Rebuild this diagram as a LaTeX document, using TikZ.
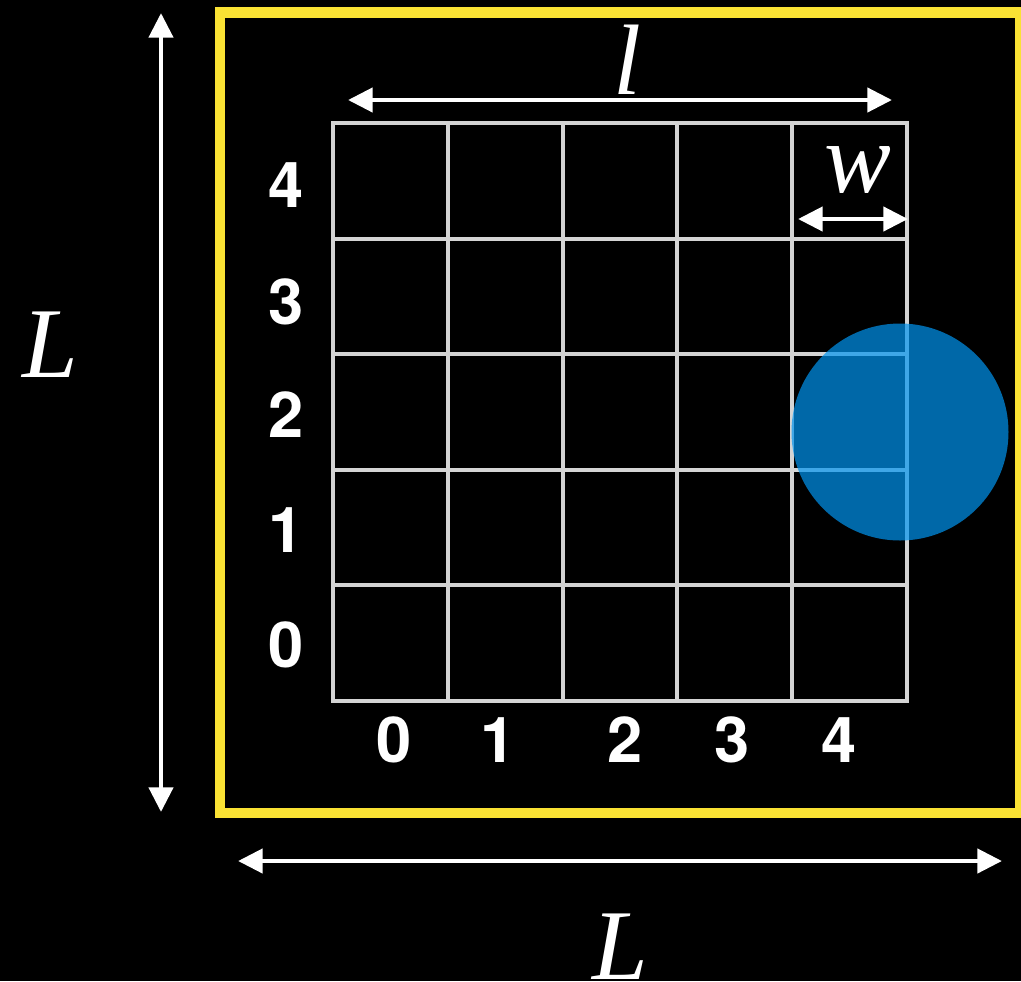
\documentclass[tikz,border=0pt]{standalone}
\usepackage{fontspec}
\usepackage{tikz}
\usetikzlibrary{arrows.meta}
\newfontfamily\labelfont{Liberation Serif}
\newfontfamily\digitfont{TeX Gyre Heros}
\definecolor{boxyellow}{RGB}{250,226,52}
\definecolor{gridgray}{RGB}{212,212,212}
\definecolor{cellblue}{RGB}{0,149,240}
\tikzset{
  dimarrow/.style={white,line width=2.8pt,{Triangle[length=14pt,width=13.5pt]}-{Triangle[length=14pt,width=13.5pt]}},
  gridline/.style={gridgray,line width=2.3pt,line cap=rect},
  dimlabel/.style={white,inner sep=0pt,font=\labelfont\itshape\fontsize{57}{60}\selectfont},
  numlabel/.style={white,inner sep=0pt,font=\digitfont\bfseries\fontsize{36}{40}\selectfont}
}
\begin{document}
\begin{tikzpicture}[x=0.02cm,y=-0.02cm]
\useasboundingbox (0,0) rectangle (1021,981);
\fill[black] (0,0) rectangle (1021,981);
% --- the box ---
\draw[boxyellow,line width=6.2pt] (220,12.5) rectangle (1020,813);
% --- the grid of cells ---
\foreach \i in {0,...,5}
  \draw[gridline] ({333+114.8*\i},123) -- ({333+114.8*\i},701);
\foreach \j in {0,...,5}
  \draw[gridline] (333,{123+115.6*\j}) -- (907,{123+115.6*\j});
\fill[cellblue,opacity=0.7] (900,432) circle (108.5);
% --- row and column indices ---
\foreach \r/\y in {4/185,3/302,2/415,1/530,0/645}
  \node[numlabel] (row\r) at (286,\y) {\r};
\foreach \c/\x in {0/394,1/498,2/625,3/732,4/839}
  \node[numlabel] (col\c) at (\x,740) {\c};
% --- the dimensions ---
\coordinate (Ltop) at (161,13);
\coordinate (Lbot) at (161,812);
\coordinate (Lleft) at (238,861);
\coordinate (Lright) at (1002,861);
\coordinate (lleft) at (348,100);
\coordinate (lright) at (892,100);
\coordinate (wleft) at (798,219);
\coordinate (wright) at (908,219);
\draw[dimarrow] (Ltop) -- (Lbot);
\draw[dimarrow] (Lleft) -- (Lright);
\draw[dimarrow] (lleft) -- (lright);
\draw[dimarrow] (wleft) -- (wright);
\node[dimlabel] (Lside) at (50,345) {L};
\node[dimlabel] (Lbase) at (620,947) {L};
\node[dimlabel] (llen) at (627,60) {l};
\node[dimlabel] (wlen) at (858,170) {w};
\end{tikzpicture}
\end{document}
